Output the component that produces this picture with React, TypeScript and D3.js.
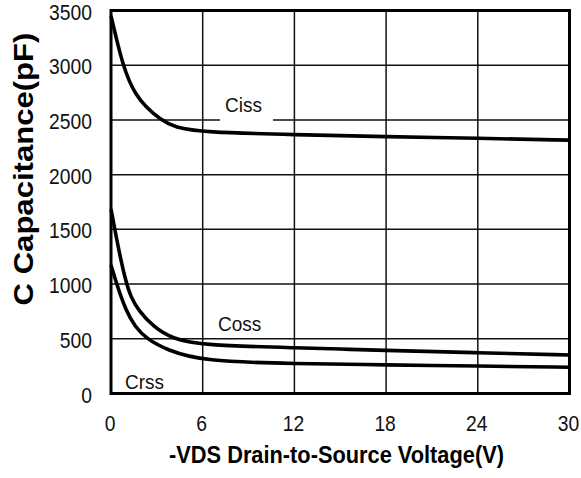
import React, { useEffect, useRef } from 'react';
import * as d3 from 'd3';

// -VDS (V) vs capacitance (pF)
const cissV = [0, 0.4, 0.8, 1.2, 1.6, 2.22, 3.2, 4.19, 6, 12, 18, 24, 30];
const cissC = [3450, 3215, 3000, 2850, 2740, 2625, 2505, 2430, 2388, 2365, 2346, 2333, 2315];

const cossV = [0, 0.26, 0.6, 0.96, 1.3, 1.79, 2.77, 3.97, 6, 12, 18, 24, 30];
const cossC = [1685, 1490, 1250, 1030, 880, 760, 610, 502, 440, 418, 394, 372, 352];

const crssV = [0, 0.37, 0.96, 1.57, 2.33, 3.64, 6, 12, 18, 24, 30];
const crssC = [1174, 1000, 763, 610, 500, 398, 294, 273, 262, 251, 240];

const xTicks = [0, 6, 12, 18, 24, 30];
const yTicks = [0, 500, 1000, 1500, 2000, 2500, 3000, 3500];

const seriesNames = ['Ciss', 'Coss', 'Crss'];
const labelV = [7.46, 7.0, 0.92];
const labelC = [2572, 571, 41];

const WIDTH = 581;
const HEIGHT = 478;
const FONT = '"Liberation Sans", Arial, sans-serif';
const STRETCH = 1.11; // text in the source is a bit taller than it is wide

const CapacitanceChart: React.FC = () => {
  const svgRef = useRef<SVGSVGElement | null>(null);

  useEffect(() => {
    if (!svgRef.current) return;
    const svg = d3.select(svgRef.current);
    svg.selectAll('*').remove();

    const x = d3.scaleLinear().domain([0, 30]).range([111, 569.5]);
    const y = d3.scaleLinear().domain([0, 3500]).range([393.5, 10.5]);

    svg.append('rect').attr('width', WIDTH).attr('height', HEIGHT).attr('fill', '#fff');

    // grid
    const grid = svg.append('g').attr('stroke', '#111').attr('stroke-width', 1.5);
    grid.selectAll('line.v')
      .data(xTicks.slice(1, -1))
      .enter().append('line')
        .attr('class', 'v')
        .attr('x1', d => x(d)).attr('x2', d => x(d))
        .attr('y1', y(0)).attr('y2', y(3500));
    grid.selectAll('line.h')
      .data(yTicks.slice(1, -1))
      .enter().append('line')
        .attr('class', 'h')
        .attr('x1', x(0)).attr('x2', x(30))
        .attr('y1', d => y(d)).attr('y2', d => y(d));

    // white patch under the Ciss label cuts the 2500 gridline
    svg.append('rect')
      .attr('x', x(labelV[0]) - 5)
      .attr('y', y(labelC[0]) - 17)
      .attr('width', 53)
      .attr('height', 27)
      .attr('fill', '#fff');

    // curves
    const line = d3.line<[number, number]>()
      .x(d => x(d[0]))
      .y(d => y(d[1]))
      .curve(d3.curveBasis);

    const series: [number, number][][] = [
      cissV.map((v, i) => [v, cissC[i]]),
      cossV.map((v, i) => [v, cossC[i]]),
      crssV.map((v, i) => [v, crssC[i]]),
    ];

    svg.selectAll('path.curve')
      .data(series)
      .enter().append('path')
        .attr('class', 'curve')
        .attr('d', d => line(d))
        .attr('fill', 'none')
        .attr('stroke', '#000')
        .attr('stroke-width', 3.6)
        .attr('stroke-linejoin', 'round');

    // frame
    svg.append('rect')
      .attr('x', x(0))
      .attr('y', y(3500))
      .attr('width', x(30) - x(0))
      .attr('height', y(0) - y(3500))
      .attr('fill', 'none')
      .attr('stroke', '#000')
      .attr('stroke-width', 3);

    // series labels
    svg.selectAll('text.series')
      .data(seriesNames)
      .enter().append('text')
        .attr('class', 'series')
        .attr('transform', (d, i) => `translate(${x(labelV[i])},${y(labelC[i])}) scale(1,${STRETCH})`)
        .style('font-family', FONT)
        .style('font-size', '19px')
        .style('fill', '#111')
        .text(d => d);

    // y tick labels
    svg.selectAll('text.ytick')
      .data(yTicks)
      .enter().append('text')
        .attr('class', 'ytick')
        .attr('transform', d => `translate(92,${y(d) + 9}) scale(1,${STRETCH})`)
        .attr('text-anchor', 'end')
        .style('font-family', FONT)
        .style('font-size', '19.3px')
        .style('fill', '#111')
        .text(d => d);

    // x tick labels
    svg.selectAll('text.xtick')
      .data(xTicks)
      .enter().append('text')
        .attr('class', 'xtick')
        .attr('transform', d => `translate(${x(d) - 1},430.5) scale(1,${STRETCH})`)
        .attr('text-anchor', 'middle')
        .style('font-family', FONT)
        .style('font-size', '19.3px')
        .style('fill', '#111')
        .text(d => d);

    // axis titles
    svg.append('text')
      .attr('transform', `translate(336.5,463) scale(1,1.07)`)
      .attr('text-anchor', 'middle')
      .style('font-family', FONT)
      .style('font-size', '21.8px')
      .style('font-weight', 'bold')
      .style('fill', '#000')
      .text('-VDS Drain-to-Source Voltage(V)');

    svg.append('text')
      .attr('transform', `translate(33,169) scale(1,${STRETCH}) rotate(-90)`)
      .attr('text-anchor', 'middle')
      .style('font-family', FONT)
      .style('font-size', '28px')
      .style('font-weight', 'bold')
      .style('fill', '#000')
      .text('C Capacitance(pF)');
  }, []);

  return (
    <svg
      ref={svgRef}
      width={WIDTH}
      height={HEIGHT}
      style={{ position: 'absolute', left: 0, top: 0, display: 'block' }}
    ></svg>
  );
};

export default function App() {
  return <CapacitanceChart />;
}
